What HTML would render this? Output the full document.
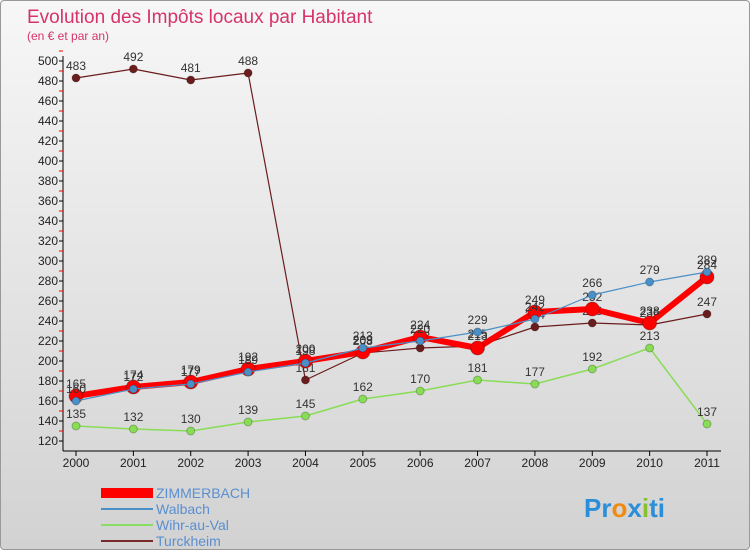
<!DOCTYPE html>
<html><head><meta charset="utf-8"><style>
body{margin:0;width:750px;height:550px;overflow:hidden;font-family:"Liberation Sans",sans-serif}
#wrap{position:relative;width:748px;height:548px;border:1px solid #999;border-radius:4px;background:linear-gradient(#f7f7f7,#d2d2d2)}
</style></head><body>
<div id="wrap">
<svg id="c" width="748" height="548" xmlns="http://www.w3.org/2000/svg">
<text x="26" y="22" font-size="19" fill="#d6336c">Evolution des Impôts locaux par Habitant</text>
<text x="26" y="39" font-size="12" fill="#d6336c">(en € et par an)</text>
<g id="axes"></g><g id="series"></g>
<g>
<rect x="100" y="487" width="52" height="10" fill="#f00"/>
<text x="155" y="497" font-size="14" fill="#5a8fd0">ZIMMERBACH</text>
<line x1="100" y1="508" x2="152" y2="508" stroke="#4a90c8" stroke-width="2"/>
<text x="155" y="513" font-size="14" fill="#5a8fd0">Walbach</text>
<line x1="100" y1="524" x2="152" y2="524" stroke="#88dd66" stroke-width="2"/>
<text x="155" y="529" font-size="14" fill="#5a8fd0">Wihr-au-Val</text>
<line x1="100" y1="540" x2="152" y2="540" stroke="#7a2a2a" stroke-width="2"/>
<text x="155" y="545" font-size="14" fill="#5a8fd0">Turckheim</text>
</g>
<text x="583" y="516" font-size="26" font-weight="bold"><tspan fill="#2a8fd8">Pr</tspan><tspan fill="#f08a10">o</tspan><tspan fill="#2a8fd8">x</tspan><tspan fill="#88c030">i</tspan><tspan fill="#2a8fd8">ti</tspan></text>
</svg></div>
<script>
const years=[2000,2001,2002,2003,2004,2005,2006,2007,2008,2009,2010,2011];
const zimmerbach=[165,174,179,192,200,209,224,213,249,252,238,284];
const walbach=[160,172,177,189,198,213,220,229,242,266,279,289];
const wihr=[135,132,130,139,145,162,170,181,177,192,213,137];
const turckheim=[483,492,481,488,181,208,213,215,234,238,236,247];
const yTicks=[120,140,160,180,200,220,240,260,280,300,320,340,360,380,400,420,440,460,480,500];
const NS="http://www.w3.org/2000/svg";
const X=i=>75+i*(706-75)/11, Y=v=>440-(v-120)*380/380;
function mk(t,a,p){const e=document.createElementNS(NS,t);for(const k in a)e.setAttribute(k,a[k]);p.appendChild(e);return e;}
const ax=document.getElementById('axes'),sg=document.getElementById('series');
mk('line',{x1:62,y1:55,x2:62,y2:450,stroke:'#000'},ax);
mk('line',{x1:62,y1:450,x2:720,y2:450,stroke:'#000'},ax);
yTicks.forEach(v=>{const t=mk('line',{x1:58,y1:Y(v),x2:62,y2:Y(v),stroke:'#000'},ax);

const m=mk('line',{x1:58,y1:Y(v)-10,x2:62,y2:Y(v)-10,stroke:'#f00'},ax);

const l=mk('text',{x:57,y:Y(v)+4,'text-anchor':'end','font-size':12,fill:'#222'},ax);l.textContent=v;
});
years.forEach((yr,i)=>{const t=mk('line',{x1:X(i),y1:450,x2:X(i),y2:455,stroke:'#000'},ax);

const l=mk('text',{x:X(i),y:466,'text-anchor':'middle','font-size':12,fill:'#222'},ax);l.textContent=yr;
});
function draw(d,name,col,w,r){const g=mk('g',{},sg);

const p=mk('polyline',{points:d.map((v,i)=>X(i)+','+Y(v)).join(' '),fill:'none',stroke:col,'stroke-width':w,'stroke-linejoin':'round'},g);

d.forEach((v,i)=>{const c=mk('circle',{cx:X(i),cy:Y(v),r:r,fill:col,stroke:'rgba(0,0,0,0.25)'},g);

const t=mk('text',{x:X(i),y:Y(v)-8,'text-anchor':'middle','font-size':12,fill:'#333'},g);t.textContent=v;
});}
draw(wihr,'wihr-au-val','#88dd55',1.5,4);
draw(turckheim,'turckheim','#6b1c1c',1.2,4);
draw(zimmerbach,'zimmerbach','#f00',6,7);
draw(walbach,'walbach','#4a90c8',1.2,4);
</script></body></html>
